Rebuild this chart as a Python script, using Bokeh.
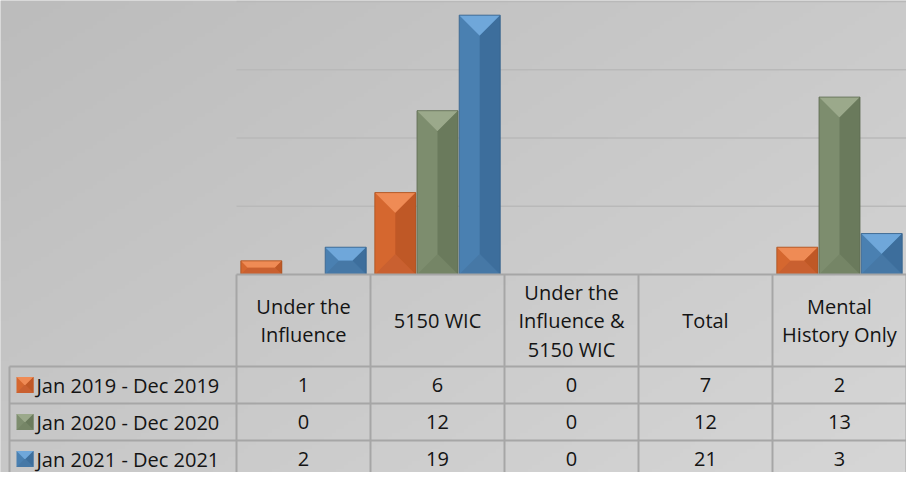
import numpy as np
from bokeh.plotting import figure
from bokeh.models import Range1d, ColumnDataSource
from bokeh.core.properties import value
from bokeh.embed import file_html
from bokeh.resources import INLINE

# ---------------- data ----------------
categories = ["Under the\nInfluence", "5150 WIC", "Under the\nInfluence &\n5150 WIC", "Total", "Mental\nHistory Only"]
series_names = ["Jan 2019 - Dec 2019", "Jan 2020 - Dec 2020", "Jan 2021 - Dec 2021"]
values_2019 = [1, 6, 0, 7, 2]
values_2020 = [0, 12, 0, 12, 13]
values_2021 = [2, 19, 0, 21, 3]
gridline_values = [5, 10, 15, 20]
categories_without_bars = ["Total"]   # the reference chart draws no bars for this column

series_values = [values_2019, values_2020, values_2021]

# ---------------- layout / style ----------------
FIG_W, FIG_H = 906, 472
PX_X = 134.0      # pixels per category
PX_Y = 13.65      # pixels per unit
ORIGIN_X = 236    # figure px of first category's left edge
ORIGIN_Y = 274    # figure px of the baseline
FONT = value("Open Sans")
FONT_SIZE = "20px"
TEXT_COLOR = "#141414"
BORDER = "#a6a6a6"

palette = [
    dict(base="#d5672f", top="#ef8b55", right="#bf5826", bottom="#c96030", outline="#a9511f"),
    dict(base="#7d8d6e", top="#9ba98b", right="#6a7a5c", bottom="#758566", outline="#5c6a50"),
    dict(base="#4a80b1", top="#6fa7da", right="#3d6e9c", bottom="#4678a6", outline="#35608a"),
]


def xd(px):
    return (px - ORIGIN_X) / PX_X


def yd(py):
    return (ORIGIN_Y - py) / PX_Y


p = figure(width=FIG_W, height=FIG_H,
           x_range=Range1d(xd(0), xd(FIG_W)), y_range=Range1d(yd(FIG_H), yd(0)),
           output_backend="svg", toolbar_location=None,
           x_axis_location=None, y_axis_location=None, min_border=0)
p.grid.visible = False
p.outline_line_color = None
p.background_fill_color = "#c8c8c8"
p.border_fill_color = "#c8c8c8"

# background gradient
GH, GW = 118, 227
u = np.linspace(0, 1, GW)[None, :]
v = np.linspace(1, 0, GH)[:, None]
g = (188 + 26 * (0.55 * u + 0.45 * v)).astype(np.uint8)
img = np.empty((GH, GW), dtype=np.uint32)
view = img.view(dtype=np.uint8).reshape((GH, GW, 4))
view[..., 0] = g
view[..., 1] = g
view[..., 2] = g
view[..., 3] = 255
p.image_rgba(image=[img], x=xd(0), y=yd(FIG_H), dw=xd(FIG_W) - xd(0), dh=yd(0) - yd(FIG_H))

# gridlines
n_g = len(gridline_values)
p.segment(x0=[0] * n_g, y0=gridline_values, x1=[xd(FIG_W)] * n_g, y1=gridline_values,
          line_color="#b9b9b9", line_width=1.5)

# ---------------- bars ----------------
BAR_W_PX = 41
BAR_STEP_PX = 42.2
bar_w = BAR_W_PX / PX_X

face_xs, face_ys, face_cols = [], [], []


def bevel(x0, x1, y0, y1, col):
    w_px = (x1 - x0) * PX_X
    h_px = (y1 - y0) * PX_Y
    d_px = min(w_px, h_px) / 2.0
    dx = d_px / PX_X
    dy = d_px / PX_Y
    faces = [
        ([x0, x1, x1 - dx, x0 + dx], [y1, y1, y1 - dy, y1 - dy], col["top"]),
        ([x0, x1, x1 - dx, x0 + dx], [y0, y0, y0 + dy, y0 + dy], col["bottom"]),
        ([x1, x1, x1 - dx, x1 - dx], [y1, y0, y0 + dy, y1 - dy], col["right"]),
    ]
    for fx, fy, fc in faces:
        face_xs.append(fx)
        face_ys.append(fy)
        face_cols.append(fc)


bar_sources = []
for s, vals in enumerate(series_values):
    off = (s - 1) * BAR_STEP_PX / PX_X
    xs, tops = [], []
    for i, cat in enumerate(categories):
        if cat in categories_without_bars or vals[i] <= 0:
            continue
        xs.append(i + 0.5 + off)
        tops.append(vals[i])
    src = ColumnDataSource(dict(x=xs, top=tops))
    bar_sources.append(src)
    p.vbar(x="x", top="top", bottom=0, width=bar_w, source=src,
           fill_color=palette[s]["base"], line_color=None)
    for x, t in zip(xs, tops):
        bevel(x - bar_w / 2, x + bar_w / 2, 0, t, palette[s])

# legend keys in the row headers
ROW_CENTERS_PX = [384.5, 421.5, 458.5]
KEY_L, KEY_R = 16, 33
for s in range(len(series_names)):
    cy = ROW_CENTERS_PX[s]
    x0, x1 = xd(KEY_L), xd(KEY_R)
    y0, y1 = yd(cy + 8), yd(cy - 8)
    p.quad(left=[x0], right=[x1], bottom=[y0], top=[y1], fill_color=palette[s]["base"], line_color=None)
    bevel(x0, x1, y0, y1, palette[s])

p.patches(xs=face_xs, ys=face_ys, fill_color=face_cols, line_color=None)

for s, src in enumerate(bar_sources):
    p.vbar(x="x", top="top", bottom=0, width=bar_w, source=src,
           fill_color=None, line_color=palette[s]["outline"], line_width=1, line_alpha=0.8)

# ---------------- data table ----------------
n_cat = len(categories)
bottom_edge = yd(FIG_H)
right_edge = xd(FIG_W)
ROW_LEFT_PX = 9
ROW_LINES_PX = [366, 403, 440]

# baseline / top of table
p.segment(x0=[0], y0=[0], x1=[right_edge], y1=[0], line_color=BORDER, line_width=2)
# column separators
p.segment(x0=list(range(n_cat + 1)), y0=[0] * (n_cat + 1),
          x1=list(range(n_cat + 1)), y1=[bottom_edge] * (n_cat + 1),
          line_color=BORDER, line_width=2)
# row header left border
p.segment(x0=[xd(ROW_LEFT_PX)], y0=[yd(ROW_LINES_PX[0])], x1=[xd(ROW_LEFT_PX)], y1=[bottom_edge],
          line_color=BORDER, line_width=2)
# row separators
p.segment(x0=[xd(ROW_LEFT_PX)] * len(ROW_LINES_PX), y0=[yd(r) for r in ROW_LINES_PX],
          x1=[right_edge] * len(ROW_LINES_PX), y1=[yd(r) for r in ROW_LINES_PX],
          line_color=BORDER, line_width=2)

# header texts
HEADER_CENTER_PX = 320
HEADER_LINE_PX = 28.5
hx, hy, ht = [], [], []
for i, cat in enumerate(categories):
    lines = cat.split("\n")
    n = len(lines)
    for k, ln in enumerate(lines):
        hx.append(i + 0.5)
        hy.append(yd(HEADER_CENTER_PX + (k - (n - 1) / 2.0) * HEADER_LINE_PX))
        ht.append(ln)
p.text(x=hx, y=hy, text=ht, text_font=FONT, text_font_size=FONT_SIZE, text_color=TEXT_COLOR,
       text_align="center", text_baseline="middle")

# values
vx, vy, vt = [], [], []
for s, vals in enumerate(series_values):
    for i, val in enumerate(vals):
        vx.append(i + 0.5)
        vy.append(yd(ROW_CENTERS_PX[s]))
        vt.append(str(val))
p.text(x=vx, y=vy, text=vt, text_font=FONT, text_font_size=FONT_SIZE, text_color=TEXT_COLOR,
       text_align="center", text_baseline="middle")

# row labels
p.text(x=[xd(36)] * len(series_names), y=[yd(c) for c in ROW_CENTERS_PX], text=series_names,
       text_font=FONT, text_font_size=FONT_SIZE, text_color=TEXT_COLOR,
       text_align="left", text_baseline="middle")

open("out.html", "w").write(file_html(p, INLINE))
